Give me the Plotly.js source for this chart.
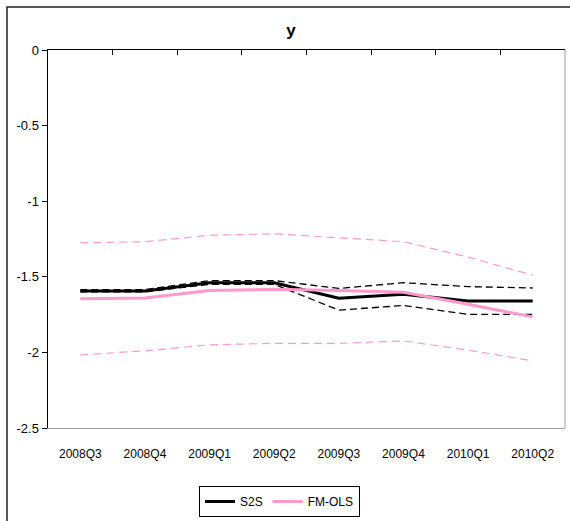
<!DOCTYPE html>
<html>
<head>
<meta charset="utf-8">
<script src="https://cdn.plot.ly/plotly-3.0.1.min.js"></script>
<style>html,body{margin:0;padding:0;background:#fff;}#chart{width:570px;height:521px;}</style>
</head>
<body>
<div id="chart"></div>
<script>
const categories = ['2008Q3','2008Q4','2009Q1','2009Q2','2009Q3','2009Q4','2010Q1','2010Q2'];
const s2s      = [-1.594, -1.594, -1.540, -1.540, -1.642, -1.616, -1.660, -1.660];
const s2sUpper = [-1.585, -1.585, -1.525, -1.525, -1.577, -1.539, -1.565, -1.574];
const s2sLower = [-1.600, -1.600, -1.550, -1.550, -1.720, -1.690, -1.748, -1.748];
const fmols    = [-1.645, -1.640, -1.590, -1.583, -1.590, -1.603, -1.682, -1.765];
const fmUpper  = [-1.275, -1.268, -1.225, -1.216, -1.242, -1.268, -1.370, -1.489];
const fmLower  = [-2.016, -1.990, -1.950, -1.940, -1.940, -1.924, -1.985, -2.056];
const yTickVals = [0, -0.5, -1, -1.5, -2, -2.5];
const yTickText = ['0', '-0.5', '-1', '-1.5', '-2', '-2.5'];

const BLACK = '#000000';
const PINK = '#ff99cc';
const FONT = '"Liberation Sans", Arial, sans-serif';

const traces = [
  {x: categories, y: s2s, name: 'S2S', type: 'scatter', mode: 'lines',
   line: {color: BLACK, width: 3}},
  {x: categories, y: s2sUpper, name: 'S2S upper', showlegend: false, type: 'scatter', mode: 'lines',
   line: {color: BLACK, width: 1.3, dash: '7px,4px'}},
  {x: categories, y: s2sLower, name: 'S2S lower', showlegend: false, type: 'scatter', mode: 'lines',
   line: {color: BLACK, width: 1.3, dash: '7px,4px'}},
  {x: categories, y: fmols, name: 'FM-OLS', type: 'scatter', mode: 'lines',
   line: {color: PINK, width: 3}},
  {x: categories, y: fmUpper, name: 'FM-OLS upper', showlegend: false, type: 'scatter', mode: 'lines',
   line: {color: PINK, width: 1.2, dash: '8px,5px'}},
  {x: categories, y: fmLower, name: 'FM-OLS lower', showlegend: false, type: 'scatter', mode: 'lines',
   line: {color: PINK, width: 1.2, dash: '8px,5px'}},
  {x: categories, y: categories.map(() => null), xaxis: 'x2', showlegend: false,
   type: 'scatter', mode: 'lines', hoverinfo: 'skip'}
];

const layout = {
  width: 570, height: 521,
  margin: {l: 48, r: 5, t: 50, b: 92, pad: 0},
  paper_bgcolor: '#ffffff', plot_bgcolor: '#ffffff',
  font: {family: FONT, size: 12, color: '#000'},
  title: {text: '<b>y</b>', font: {family: FONT, size: 17, color: '#000'},
          xref: 'container', yref: 'container', x: 291/570, y: 1 - 30/521, xanchor: 'center', yanchor: 'middle'},
  xaxis: {type: 'category', range: [-0.5, 7.5], showgrid: false, zeroline: false,
          showline: true, linecolor: '#a0a0a0', linewidth: 1, ticks: '',
          tickfont: {family: FONT, size: 12}, ticklabelstandoff: 15},
  xaxis2: {type: 'category', overlaying: 'x', side: 'top', anchor: 'y', range: [-0.5, 7.5],
           showgrid: false, zeroline: false, showline: true, linecolor: '#000', linewidth: 1.5,
           ticks: 'inside', tickson: 'boundaries', ticklen: 5, tickcolor: '#000', tickwidth: 1,
           showticklabels: false},
  yaxis: {range: [-2.5, 0], tickvals: yTickVals, ticktext: yTickText, showgrid: false, zeroline: false,
          showline: true, linecolor: '#000', linewidth: 1.5, ticks: 'outside', ticklen: 5,
          tickcolor: '#000', tickfont: {family: FONT, size: 13}},
  showlegend: true,
  legend: {orientation: 'h', x: (279.5-48)/517, xanchor: 'center', y: (429-486)/379, yanchor: 'top',
           bordercolor: '#000', borderwidth: 1, bgcolor: '#fff', itemwidth: 30,
           font: {family: FONT, size: 12}, tracegroupgap: 0},
  shapes: [
    {type: 'line', xref: 'paper', yref: 'paper', x0: 1, x1: 1, y0: 0, y1: 1,
     line: {color: '#a0a0a0', width: 1}},
    {type: 'rect', xref: 'paper', yref: 'paper',
     x0: (7-48)/517, x1: (575-48)/517, y0: (429-530)/379, y1: 1 + (50-7)/379,
     line: {color: '#222', width: 1.5}, fillcolor: 'rgba(0,0,0,0)', layer: 'below'}
  ]
};

Plotly.newPlot('chart', traces, layout, {displayModeBar: false, staticPlot: true});
</script>
</body>
</html>
